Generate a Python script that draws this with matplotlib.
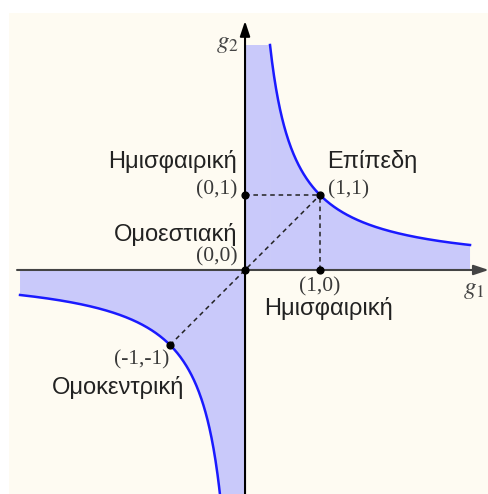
import numpy as np
import matplotlib
matplotlib.use("Agg")
import matplotlib.pyplot as plt
from matplotlib.patches import Rectangle

# Hyperbola g2 = 1/g1 branches (g1 ranges)
branch_pos = (1 / 3, 3.0)
branch_neg = (-3.0, -1 / 3)

# Marked points and their labels
points_x = [0, 1, 0, 1, -1]
points_y = [0, 0, 1, 1, -1]
point_labels = ["(0,0)", "(1,0)", "(0,1)", "(1,1)", "(-1,-1)"]

# Region names
region_names = ["Ημισφαιρική", "Επίπεδη", "Ομοεστιακή", "Ημισφαιρική", "Ομοκεντρική"]

BG = "#fefbf2"
FILL = "#c9c9fa"
CURVE = "#1a1aff"

fig = plt.figure(figsize=(4.89, 4.94), dpi=100)
ax = fig.add_axes([0, 0, 1, 1])
ax.set_xlim(-3.267, 3.253)
ax.set_ylim(-2.987, 3.6)
ax.axis("off")

ax.add_patch(Rectangle((-3.147, -3.1), 6.5, 6.527, facecolor=BG, edgecolor="none", zorder=0))

# Shaded regions between the axes and the hyperbola
g1p = np.linspace(*branch_pos, 400)
g1n = np.linspace(*branch_neg, 400)
ax.fill_between(g1p, 0, 1 / g1p, facecolor=FILL, edgecolor="none", zorder=1)
ax.fill_between([0, branch_pos[0]], 0, 1 / branch_pos[0], facecolor=FILL, edgecolor="none", zorder=1)
ax.fill_between(g1n, 1 / g1n, 0, facecolor=FILL, edgecolor="none", zorder=1)
ax.fill_between([branch_neg[1], 0], 1 / branch_neg[1], 0, facecolor=FILL, edgecolor="none", zorder=1)

ax.plot(g1p, 1 / g1p, color=CURVE, lw=1.8, zorder=3)
ax.plot(g1n, 1 / g1n, color=CURVE, lw=1.8, zorder=3)

# Axes with arrows
ax.annotate("", xy=(3.25, 0), xytext=(-3.04, 0),
            arrowprops=dict(arrowstyle="-|>,head_length=0.9,head_width=0.3", color="#444444", lw=1.5,
                            shrinkA=0, shrinkB=0), zorder=4)
ax.annotate("", xy=(0, 3.32), xytext=(0, -3.1),
            arrowprops=dict(arrowstyle="-|>,head_length=0.9,head_width=0.3", color="black", lw=1.5,
                            shrinkA=0, shrinkB=0), zorder=4)

# Dashed guides
dash = dict(color="#222222", lw=1.1, ls=(0, (3, 2.5)), zorder=2)
ax.plot([0, 1], [1, 1], **dash)
ax.plot([1, 1], [0, 1], **dash)
ax.plot([-1, 1], [-1, 1], **dash)

ax.scatter(points_x, points_y, s=24, color="black", zorder=5)

serif = dict(family="Liberation Serif", fontsize=15.5, color="#3a3a3a")
sans = dict(family="Liberation Sans", fontsize=17, color="#222222")

ax.text(-0.105, 0.17, point_labels[0], ha="right", va="center", **serif)
ax.text(1.0, -0.23, point_labels[1], ha="center", va="center", **serif)
ax.text(-0.105, 1.07, point_labels[2], ha="right", va="center", **serif)
ax.text(1.10, 1.07, point_labels[3], ha="left", va="center", **serif)
ax.text(-1.01, -1.20, point_labels[4], ha="right", va="center", **serif)

ax.text(-0.105, 1.447, region_names[0], ha="right", va="center", **sans)
ax.text(1.10, 1.453, region_names[1], ha="left", va="center", **sans)
ax.text(-0.105, 0.467, region_names[2], ha="right", va="center", **sans)
ax.text(1.11, -0.52, region_names[3], ha="center", va="center", **sans)
ax.text(-2.573, -1.573, region_names[4], ha="left", va="center", **sans)

ax.text(-0.24, 3.03, r"$g_2$", ha="center", va="center", fontsize=18, color="#444444",
        math_fontfamily="stix")
ax.text(3.05, -0.25, r"$g_1$", ha="center", va="center", fontsize=18, color="#444444",
        math_fontfamily="stix")

fig.savefig("out.png", dpi=100, facecolor="white")
